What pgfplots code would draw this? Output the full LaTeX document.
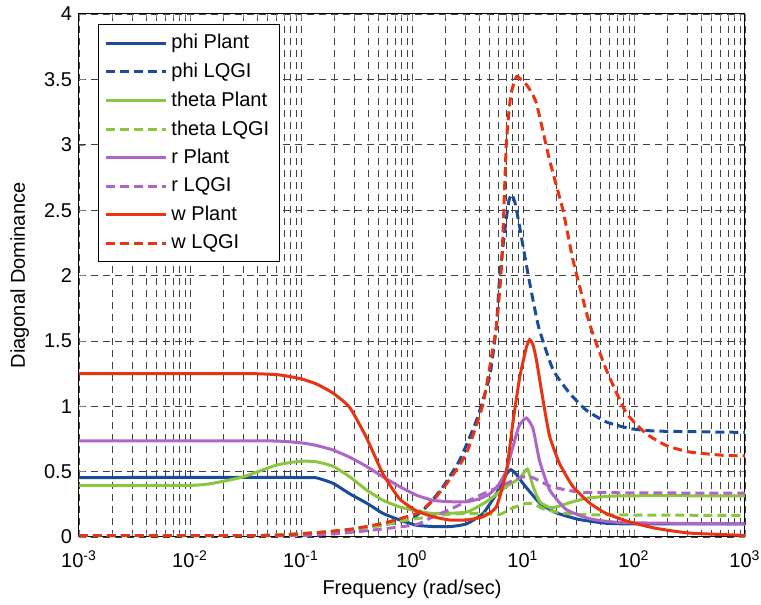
\documentclass[border=0pt]{standalone}
\usepackage{fontspec}
\setmainfont{Liberation Sans}
\usepackage{pgfplots}
\pgfplotsset{compat=1.18}

\definecolor{phiblue}{RGB}{26,77,153}
\definecolor{thgreen}{RGB}{140,198,63}
\definecolor{rpurple}{RGB}{175,100,200}
\definecolor{wred}{RGB}{232,52,18}

\begin{document}
\begin{tikzpicture}
\begin{axis}[
  scale only axis, width=333pt, height=261.5pt,
  xmode=log, xmin=1e-3, xmax=1e3, ymin=0, ymax=4,
  xtick={1e-3,1e-2,1e-1,1,1e1,1e2,1e3},
  xticklabels={10\textsuperscript{-3},10\textsuperscript{-2},10\textsuperscript{-1},10\textsuperscript{0},10\textsuperscript{1},10\textsuperscript{2},10\textsuperscript{3}},
  ytick={0,0.5,1,1.5,2,2.5,3,3.5,4},
  yticklabels={0,0.5,1,1.5,2,2.5,3,3.5,4},
  minor y tick num=0,
  grid=both,
  major grid style={black!75, line width=0.3pt, dash pattern=on 3.5pt off 2.5pt},
  minor grid style={black!75, line width=0.3pt, dash pattern=on 3.5pt off 2.5pt},
  tick align=inside, major tick length=3pt, minor tick length=1.8pt,
  axis line style={line width=0.5pt},
  tick label style={font=\fontsize{10}{12}\selectfont},
  label style={font=\fontsize{10}{12}\selectfont},
  xticklabel style={anchor=base, yshift=-15.5pt},
  xlabel={Frequency (rad/sec)},
  ylabel={Diagonal Dominance},
  xlabel style={at={([yshift=-29pt]axis description cs:0.5,0)}, anchor=base},
  ylabel style={at={([xshift=-27pt]axis description cs:0,0.5)}, anchor=base},
  legend cell align=left,
  legend style={at={(0.0285,0.981)}, anchor=north west, draw=black, line width=0.5pt,
    font=\fontsize{10}{12}\selectfont, row sep=1.6pt, inner xsep=3pt, inner ysep=3pt},
  legend image code/.code={\draw[#1, line width=1.5pt] (0pt,0pt) -- (30pt,0pt);},
  every axis plot/.append style={line width=1.5pt, smooth, tension=0.3},
  dsh/.style={dash pattern=on 4.5pt off 2.5pt},
]
% phi Plant
\addplot[phiblue] coordinates {(0.001,0.455) (0.1,0.455) (0.138,0.452) (0.195,0.41) (0.2754,0.33) (0.389,0.26) (0.5495,0.18) (0.7762,0.13) (1.096,0.09) (1.549,0.08) (2.188,0.079) (3.09,0.10) (4.365,0.18) (5.754,0.33) (7.079,0.48) (7.762,0.515) (8.71,0.48) (10,0.41) (14.13,0.26) (19.95,0.185) (31.62,0.135) (56.23,0.105) (100,0.10) (1000,0.10)};
\addlegendentry{phi Plant}
% phi LQGI
\addplot[phiblue, dsh] coordinates {(0.001,0.01) (0.03162,0.01) (0.06918,0.015) (0.138,0.03) (0.2754,0.055) (0.5495,0.095) (0.955,0.13) (1.349,0.23) (1.905,0.385) (2.692,0.59) (3.802,0.89) (5.012,1.23) (5.754,1.61) (6.166,1.99) (6.918,2.37) (7.499,2.58) (7.943,2.62) (8.511,2.55) (9.333,2.37) (11.22,1.99) (13.8,1.61) (18.62,1.28) (26.3,1.10) (37.15,0.97) (56.23,0.88) (91.2,0.83) (158.5,0.81) (1000,0.80)};
\addlegendentry{phi LQGI}
% theta Plant
\addplot[thgreen] coordinates {(0.001,0.395) (0.01,0.395) (0.01585,0.41) (0.0302,0.46) (0.06026,0.55) (0.1,0.58) (0.138,0.575) (0.195,0.54) (0.2754,0.46) (0.389,0.36) (0.5495,0.28) (0.7762,0.23) (1.096,0.20) (1.549,0.18) (3.09,0.19) (4.677,0.27) (7.079,0.385) (9.333,0.45) (10.96,0.52) (12.3,0.39) (14.13,0.27) (17.38,0.225) (19.95,0.23) (28.18,0.27) (39.81,0.30) (79.43,0.315) (1000,0.315)};
\addlegendentry{theta Plant}
% theta LQGI
\addplot[thgreen, dsh] coordinates {(0.001,0.01) (0.03162,0.01) (0.06918,0.02) (0.138,0.035) (0.2754,0.054) (0.5495,0.09) (0.7762,0.12) (1.096,0.14) (2.188,0.175) (4.365,0.18) (6.166,0.172) (7.943,0.22) (10.47,0.255) (12.3,0.255) (15.85,0.21) (22.39,0.185) (39.81,0.17) (1000,0.165)};
\addlegendentry{theta LQGI}
% r Plant
\addplot[rpurple] coordinates {(0.001,0.735) (0.05012,0.735) (0.1,0.72) (0.138,0.70) (0.195,0.665) (0.2754,0.61) (0.389,0.54) (0.5495,0.46) (0.7762,0.385) (1.096,0.32) (1.549,0.28) (2.188,0.27) (3.09,0.27) (3.981,0.29) (5.012,0.33) (6.026,0.40) (7.079,0.51) (9.12,0.84) (10.72,0.91) (12.3,0.83) (14.13,0.58) (17.38,0.36) (24.55,0.21) (39.81,0.14) (79.43,0.11) (1000,0.10)};
\addlegendentry{r Plant}
% r LQGI
\addplot[rpurple, dsh] coordinates {(0.001,0.006) (0.03162,0.006) (0.138,0.015) (0.2754,0.035) (0.5495,0.062) (1.096,0.095) (1.549,0.155) (2.188,0.21) (3.09,0.27) (4.365,0.33) (6.166,0.385) (8.511,0.44) (10.72,0.465) (12.59,0.45) (17.38,0.39) (24.55,0.36) (39.81,0.34) (1000,0.335)};
\addlegendentry{r LQGI}
% w Plant
\addplot[wred] coordinates {(0.001,1.25) (0.03162,1.25) (0.0631,1.24) (0.1,1.21) (0.138,1.17) (0.195,1.10) (0.2754,0.99) (0.389,0.76) (0.5495,0.48) (0.7762,0.29) (1.096,0.20) (1.549,0.155) (2.188,0.13) (3.09,0.13) (4.365,0.155) (5.754,0.23) (7.079,0.50) (8.128,0.88) (9.333,1.22) (10.72,1.45) (11.48,1.51) (12.3,1.47) (13.18,1.36) (15.14,1.05) (17.38,0.77) (21.38,0.56) (28.18,0.385) (39.81,0.26) (56.23,0.18) (91.2,0.115) (158.5,0.066) (316.2,0.03) (1000,0.012)};
\addlegendentry{w Plant}
% w LQGI
\addplot[wred, dsh] coordinates {(0.001,0.01) (0.03162,0.01) (0.06918,0.015) (0.138,0.033) (0.2754,0.059) (0.5495,0.105) (1.096,0.18) (1.549,0.28) (2.188,0.44) (3.09,0.64) (4.365,1.02) (5.754,1.61) (6.457,2.12) (7.079,3.01) (7.762,3.38) (8.71,3.52) (9.55,3.50) (10.96,3.45) (13.18,3.32) (17.38,2.88) (22.91,2.50) (28.18,2.12) (39.81,1.63) (56.23,1.28) (85.11,0.95) (128.8,0.79) (195,0.70) (316.2,0.65) (631,0.625) (1000,0.62)};
\addlegendentry{w LQGI}
\end{axis}
\pgfresetboundingbox
\path[use as bounding box] ([xshift=-39.5pt,yshift=-34pt]current axis.south west) rectangle ([xshift=8pt,yshift=7pt]current axis.north east);
\end{tikzpicture}
\end{document}
